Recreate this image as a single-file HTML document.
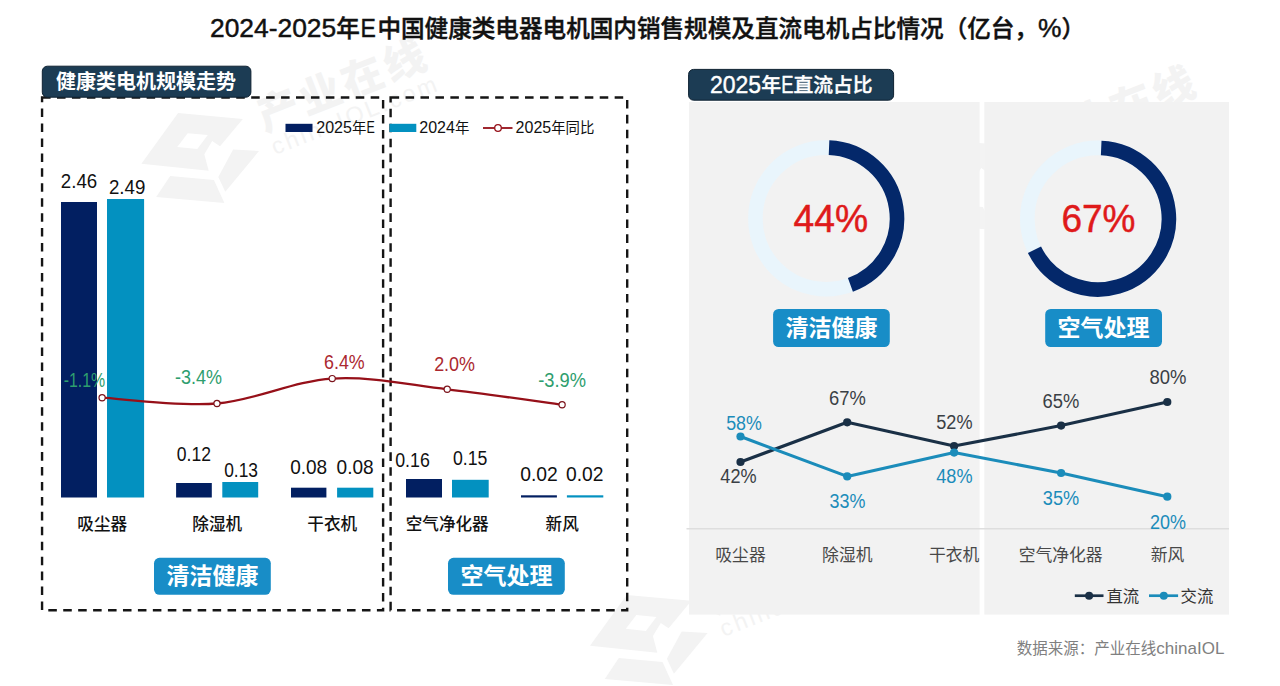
<!DOCTYPE html>
<html lang="zh-CN"><head><meta charset="utf-8"><title>2024-2025年E中国健康类电器电机国内销售规模及直流电机占比情况</title>
<style>html,body{margin:0;padding:0;background:#fff}body{width:1280px;height:686px;overflow:hidden}svg{display:block}text{font-family:"Liberation Sans", "Noto Sans CJK SC", sans-serif}</style>
</head><body>
<svg width="1280" height="686" viewBox="0 0 1280 686">
<rect width="1280" height="686" fill="#ffffff"/>
<g transform="translate(141.4,113.1)" fill="#f3f3f3">
<path fill-rule="evenodd" d="M36.7,0 L101.4,5.8 L78.6,33.2 L70.8,28 L62.9,41.1 L67.3,57.7 L0,50.7 Z M46.3,20.1 L66.4,21.9 L55.9,35.9 L35.8,33.8 Z"/>
<polygon points="28.8,62.9 72.5,67 83,90 14.8,83.9"/>
<polygon points="91.7,36.4 117.6,37.9 83.9,78.7 76.9,63.8"/>
<text transform="translate(123.1,18.6) rotate(-21.5)" font-size="41.5" font-weight="900" letter-spacing="3.6">产业在线</text>
<text transform="translate(133.6,41.9) rotate(-21.5)" font-size="23.5" letter-spacing="2.8">chinaIOL.com</text>
</g>
<g transform="translate(590,595)" fill="#f3f3f3">
<path fill-rule="evenodd" d="M36.7,0 L101.4,5.8 L78.6,33.2 L70.8,28 L62.9,41.1 L67.3,57.7 L0,50.7 Z M46.3,20.1 L66.4,21.9 L55.9,35.9 L35.8,33.8 Z"/>
<polygon points="28.8,62.9 72.5,67 83,90 14.8,83.9"/>
<polygon points="91.7,36.4 117.6,37.9 83.9,78.7 76.9,63.8"/>
<text transform="translate(123.1,18.6) rotate(-21.5)" font-size="41.5" font-weight="900" letter-spacing="3.6">产业在线</text>
<text transform="translate(133.6,41.9) rotate(-21.5)" font-size="23.5" letter-spacing="2.8">chinaIOL.com</text>
</g>
<g transform="translate(910.4,140.1)" fill="#f3f3f3">
<path fill-rule="evenodd" d="M36.7,0 L101.4,5.8 L78.6,33.2 L70.8,28 L62.9,41.1 L67.3,57.7 L0,50.7 Z M46.3,20.1 L66.4,21.9 L55.9,35.9 L35.8,33.8 Z"/>
<polygon points="28.8,62.9 72.5,67 83,90 14.8,83.9"/>
<polygon points="91.7,36.4 117.6,37.9 83.9,78.7 76.9,63.8"/>
<text transform="translate(123.1,18.6) rotate(-21.5)" font-size="41.5" font-weight="900" letter-spacing="3.6">产业在线</text>
<text transform="translate(133.6,41.9) rotate(-21.5)" font-size="23.5" letter-spacing="2.8">chinaIOL.com</text>
</g>
<g fill="#111" stroke="#111" stroke-width="0.45" font-weight="500">
<text x="210" y="37.3"><tspan font-size="26.4">2024-2025</tspan><tspan font-size="23.6" dy="-0.8">年</tspan></text>
<text transform="translate(360.6,37.3) scale(0.87,1)" font-size="26.4">E</text>
<text x="377.4" y="36.5"><tspan font-size="23.6">中国健康类电器电机国内销售规模及直流电机占比情况（亿台，</tspan><tspan font-size="26.4" dy="0.8">%</tspan><tspan font-size="23.6" dy="-0.8">）</tspan></text>
</g>
<rect x="689" y="102" width="290.6" height="512.6" fill="#f2f2f2"/>
<rect x="984.3" y="102" width="244.7" height="512.6" fill="#f2f2f2"/>
<g fill="none" stroke="#151515" stroke-width="2.4" stroke-dasharray="8.55 6.387">
<rect x="42.06" y="97.5" width="341.05" height="512.7"/>
<rect x="390.6" y="97.5" width="236.6" height="512.7"/>
</g>
<rect x="42.3" y="66.2" width="208.6" height="31" rx="5" fill="#1c3c54" stroke="#0f2232" stroke-width="1"/>
<text x="145.9" y="89.4" font-size="20" font-weight="700" text-anchor="middle" fill="#fff">健康类电机规模走势</text>
<rect x="688.6" y="69.4" width="205" height="30.8" rx="5" fill="#1c3c54" stroke="#0f2232" stroke-width="1"/>
<g fill="#fff" stroke="#fff" stroke-width="0.4" font-weight="500">
<text x="710" y="92.7"><tspan font-size="23">2025</tspan><tspan font-size="19.8" dy="-1">年</tspan></text>
<text transform="translate(781.3,92.7) scale(0.8,1)" font-size="23">E</text>
<text x="793.4" y="91.7" font-size="19.8">直流占比</text>
</g>
<rect x="285.5" y="123.8" width="27" height="8.2" fill="#021f61"/>
<text x="316.3" y="133" fill="#111"><tspan font-size="16">2025</tspan><tspan font-size="14.4" dy="-0.5">年</tspan></text>
<text transform="translate(366.6,133) scale(0.78,1)" font-size="16" fill="#111">E</text>
<rect x="389.5" y="123.8" width="26.8" height="8.2" fill="#0391c0"/>
<text x="419.3" y="133" text-anchor="start" fill="#111" ><tspan font-size="16">2024</tspan><tspan font-size="14.4" dy="-0.5">年</tspan></text>
<line x1="483" y1="128" x2="512.5" y2="128" stroke="#961019" stroke-width="1.8"/>
<circle cx="498" cy="128" r="3.3" fill="#fff" stroke="#961019" stroke-width="1.3"/>
<text x="515.6" y="133" text-anchor="start" fill="#111" ><tspan font-size="16">2025</tspan><tspan font-size="14.4" dy="-0.5">年同比</tspan></text>
<rect x="61.0" y="202.0" width="36.0" height="295.5" fill="#021f61"/>
<rect x="107.0" y="199.0" width="37.1" height="298.5" fill="#0391c0"/>
<rect x="176.1" y="483.0" width="35.7" height="14.5" fill="#021f61"/>
<rect x="222.3" y="482.0" width="35.9" height="15.5" fill="#0391c0"/>
<rect x="291.0" y="487.7" width="35.4" height="9.8" fill="#021f61"/>
<rect x="337.1" y="487.7" width="36.2" height="9.8" fill="#0391c0"/>
<rect x="406.0" y="479.0" width="36.0" height="18.5" fill="#021f61"/>
<rect x="452.0" y="479.8" width="36.7" height="17.7" fill="#0391c0"/>
<rect x="521.0" y="495.3" width="35.9" height="2.2" fill="#021f61"/>
<rect x="566.9" y="495.3" width="36.4" height="2.2" fill="#0391c0"/>
<text x="79.0" y="187.8" font-size="19.3" text-anchor="middle" textLength="36.4" lengthAdjust="spacingAndGlyphs" fill="#111">2.46</text>
<text x="127.1" y="193.8" font-size="19.3" text-anchor="middle" textLength="36.4" lengthAdjust="spacingAndGlyphs" fill="#111">2.49</text>
<text x="193.9" y="460.6" font-size="19.3" text-anchor="middle" textLength="34.2" lengthAdjust="spacingAndGlyphs" fill="#111">0.12</text>
<text x="241.1" y="476.7" font-size="19.3" text-anchor="middle" textLength="33.8" lengthAdjust="spacingAndGlyphs" fill="#111">0.13</text>
<text x="308.7" y="473.8" font-size="19.3" text-anchor="middle" textLength="37.0" lengthAdjust="spacingAndGlyphs" fill="#111">0.08</text>
<text x="355.1" y="473.8" font-size="19.3" text-anchor="middle" textLength="37.1" lengthAdjust="spacingAndGlyphs" fill="#111">0.08</text>
<text x="412.5" y="467.2" font-size="19.3" text-anchor="middle" textLength="34.6" lengthAdjust="spacingAndGlyphs" fill="#111">0.16</text>
<text x="470.2" y="464.6" font-size="19.3" text-anchor="middle" textLength="34.4" lengthAdjust="spacingAndGlyphs" fill="#111">0.15</text>
<text x="539.0" y="481.1" font-size="19.3" text-anchor="middle" textLength="37.6" lengthAdjust="spacingAndGlyphs" fill="#111">0.02</text>
<text x="584.8" y="481.1" font-size="19.3" text-anchor="middle" textLength="37.5" lengthAdjust="spacingAndGlyphs" fill="#111">0.02</text>
<path d="M102.1,397.7 C121.2,398.7 178.7,406.7 217.0,403.5 C255.3,400.3 293.8,381.0 332.2,378.6 C370.6,376.2 408.9,384.9 447.2,389.3 C485.5,393.7 543.0,402.2 562.1,404.8" fill="none" stroke="#961019" stroke-width="2.3"/>
<circle cx="102.1" cy="397.7" r="3.1" fill="#fff" stroke="#7c141c" stroke-width="1.2"/>
<circle cx="217.0" cy="403.5" r="3.1" fill="#fff" stroke="#7c141c" stroke-width="1.2"/>
<circle cx="332.2" cy="378.6" r="3.1" fill="#fff" stroke="#7c141c" stroke-width="1.2"/>
<circle cx="447.2" cy="389.3" r="3.1" fill="#fff" stroke="#7c141c" stroke-width="1.2"/>
<circle cx="562.1" cy="404.8" r="3.1" fill="#fff" stroke="#7c141c" stroke-width="1.2"/>
<text x="84.5" y="386.6" font-size="19.5" text-anchor="middle" textLength="41.5" lengthAdjust="spacingAndGlyphs" fill="#2e9e6e">-1.1%</text>
<text x="198.6" y="383.9" font-size="19.5" text-anchor="middle" textLength="47.0" lengthAdjust="spacingAndGlyphs" fill="#2e9e6e">-3.4%</text>
<text x="344.4" y="369.3" font-size="19.5" text-anchor="middle" textLength="40.7" lengthAdjust="spacingAndGlyphs" fill="#ab2830">6.4%</text>
<text x="454.6" y="371.0" font-size="19.5" text-anchor="middle" textLength="40.9" lengthAdjust="spacingAndGlyphs" fill="#ab2830">2.0%</text>
<text x="562.1" y="387.2" font-size="19.5" text-anchor="middle" textLength="47.8" lengthAdjust="spacingAndGlyphs" fill="#2e9e6e">-3.9%</text>
<text x="102.2" y="530.3" font-size="16.6" font-weight="500" text-anchor="middle" fill="#111">吸尘器</text>
<text x="217.2" y="530.3" font-size="16.6" font-weight="500" text-anchor="middle" fill="#111">除湿机</text>
<text x="332.2" y="530.3" font-size="16.6" font-weight="500" text-anchor="middle" fill="#111">干衣机</text>
<text x="447.2" y="530.3" font-size="16.6" font-weight="500" text-anchor="middle" fill="#111">空气净化器</text>
<text x="562.2" y="530.3" font-size="16.6" font-weight="500" text-anchor="middle" fill="#111">新风</text>
<rect x="154.0" y="557.8" width="116.8" height="37.0" rx="5.5" fill="#188dc7"/>
<text x="212.4" y="584.2" font-size="23" font-weight="700" text-anchor="middle" fill="#fff">清洁健康</text>
<rect x="448.0" y="557.8" width="116.8" height="37.0" rx="5.5" fill="#188dc7"/>
<text x="506.4" y="584.2" font-size="23" font-weight="700" text-anchor="middle" fill="#fff">空气处理</text>
<rect x="773.1" y="309.0" width="116.7" height="38.0" rx="5.5" fill="#188dc7"/>
<text x="831.5" y="336.4" font-size="23" font-weight="700" text-anchor="middle" fill="#fff">清洁健康</text>
<rect x="1045.2" y="309.0" width="116.8" height="38.0" rx="5.5" fill="#188dc7"/>
<text x="1103.6" y="336.4" font-size="23" font-weight="700" text-anchor="middle" fill="#fff">空气处理</text>
<circle cx="826.2" cy="218.4" r="70.8" fill="none" stroke="#e9f5fc" stroke-width="14.6"/>
<path d="M829.04,147.66 A70.80,70.80 0 0 1 850.42,284.93" fill="none" stroke="#04286a" stroke-width="14.6"/>
<text x="830.9" y="231.7" font-size="39.6" text-anchor="middle" textLength="74.6" lengthAdjust="spacingAndGlyphs" fill="#df1a1a" stroke="#df1a1a" stroke-width="0.5">44%</text>
<circle cx="1098.1" cy="218.7" r="70.8" fill="none" stroke="#e9f5fc" stroke-width="14.6"/>
<path d="M1101.19,147.97 A70.80,70.80 0 1 1 1034.47,249.74" fill="none" stroke="#04286a" stroke-width="14.6"/>
<text x="1098.5" y="232.2" font-size="39.6" text-anchor="middle" textLength="74.0" lengthAdjust="spacingAndGlyphs" fill="#df1a1a" stroke="#df1a1a" stroke-width="0.5">67%</text>
<line x1="686.5" y1="528.7" x2="1229" y2="528.7" stroke="#dedede" stroke-width="1.4"/>
<polyline points="740.5,462.0 847.2,422.3 954.1,446.1 1061.1,425.6 1167.3,402.0" fill="none" stroke="#1a3046" stroke-width="3.1" stroke-linejoin="round"/>
<circle cx="740.5" cy="462.0" r="4.1" fill="#1a3046"/>
<circle cx="847.2" cy="422.3" r="4.1" fill="#1a3046"/>
<circle cx="954.1" cy="446.1" r="4.1" fill="#1a3046"/>
<circle cx="1061.1" cy="425.6" r="4.1" fill="#1a3046"/>
<circle cx="1167.3" cy="402.0" r="4.1" fill="#1a3046"/>
<polyline points="740.5,436.5 847.2,476.4 954.1,452.6 1061.1,473.0 1167.3,496.7" fill="none" stroke="#1b8cba" stroke-width="3.1" stroke-linejoin="round"/>
<circle cx="740.5" cy="436.5" r="4.1" fill="#1b8cba"/>
<circle cx="847.2" cy="476.4" r="4.1" fill="#1b8cba"/>
<circle cx="954.1" cy="452.6" r="4.1" fill="#1b8cba"/>
<circle cx="1061.1" cy="473.0" r="4.1" fill="#1b8cba"/>
<circle cx="1167.3" cy="496.7" r="4.1" fill="#1b8cba"/>
<text x="738.5" y="482.6" font-size="19.5" text-anchor="middle" textLength="36.3" lengthAdjust="spacingAndGlyphs" fill="#3a3f45">42%</text>
<text x="847.4" y="404.9" font-size="19.5" text-anchor="middle" textLength="36.8" lengthAdjust="spacingAndGlyphs" fill="#3a3f45">67%</text>
<text x="954.4" y="428.5" font-size="19.5" text-anchor="middle" textLength="36.3" lengthAdjust="spacingAndGlyphs" fill="#3a3f45">52%</text>
<text x="1061.0" y="407.5" font-size="19.5" text-anchor="middle" textLength="36.8" lengthAdjust="spacingAndGlyphs" fill="#3a3f45">65%</text>
<text x="1167.9" y="383.9" font-size="19.5" text-anchor="middle" textLength="37.0" lengthAdjust="spacingAndGlyphs" fill="#3a3f45">80%</text>
<text x="744.0" y="429.8" font-size="19.5" text-anchor="middle" textLength="35.7" lengthAdjust="spacingAndGlyphs" fill="#1b8cba">58%</text>
<text x="847.5" y="507.8" font-size="19.5" text-anchor="middle" textLength="35.9" lengthAdjust="spacingAndGlyphs" fill="#1b8cba">33%</text>
<text x="954.4" y="483.4" font-size="19.5" text-anchor="middle" textLength="36.3" lengthAdjust="spacingAndGlyphs" fill="#1b8cba">48%</text>
<text x="1061.0" y="504.9" font-size="19.5" text-anchor="middle" textLength="36.4" lengthAdjust="spacingAndGlyphs" fill="#1b8cba">35%</text>
<text x="1168.1" y="528.8" font-size="19.5" text-anchor="middle" textLength="36.0" lengthAdjust="spacingAndGlyphs" fill="#1b8cba">20%</text>
<text x="740.5" y="561" font-size="16.8" text-anchor="middle" fill="#484848">吸尘器</text>
<text x="847.3" y="561" font-size="16.8" text-anchor="middle" fill="#484848">除湿机</text>
<text x="954.2" y="561" font-size="16.8" text-anchor="middle" fill="#484848">干衣机</text>
<text x="1060.7" y="561" font-size="16.8" text-anchor="middle" fill="#484848">空气净化器</text>
<text x="1167.5" y="561" font-size="16.8" text-anchor="middle" fill="#484848">新风</text>
<line x1="1074.8" y1="595.7" x2="1103.5" y2="595.7" stroke="#1a3046" stroke-width="2.7"/>
<circle cx="1089.1" cy="595.7" r="4" fill="#1a3046"/>
<text x="1106.4" y="601.5" font-size="16.4" fill="#333">直流</text>
<line x1="1149" y1="595.7" x2="1178.1" y2="595.7" stroke="#1b8cba" stroke-width="2.7"/>
<circle cx="1163.8" cy="595.7" r="4" fill="#1b8cba"/>
<text x="1180.6" y="601.5" font-size="16.4" fill="#333">交流</text>
<text x="1016.8" y="653.5" text-anchor="start" fill="#808080" ><tspan font-size="15.5">数据来源：产业在线</tspan><tspan font-size="17">chinaIOL</tspan></text>
</svg>
</body></html>
